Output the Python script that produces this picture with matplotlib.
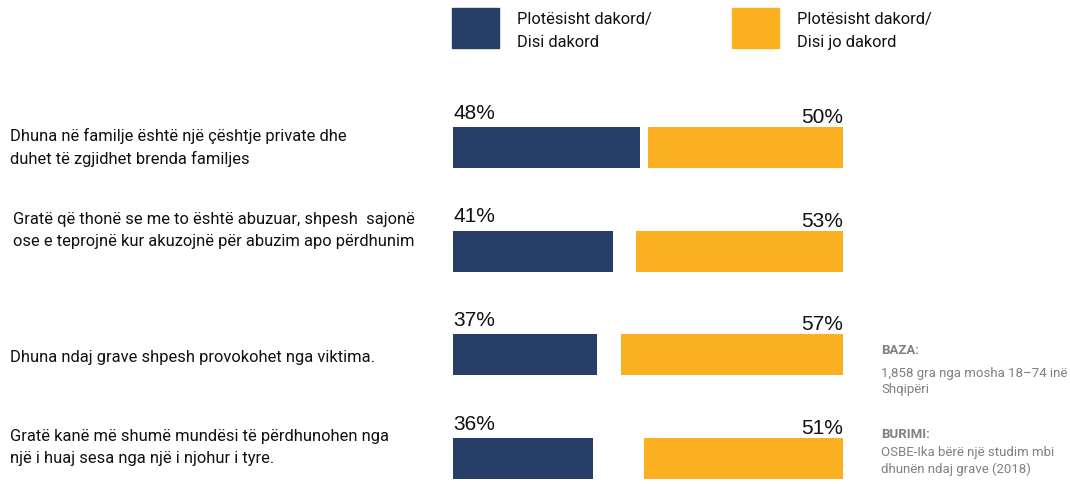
import numpy as np
import matplotlib
matplotlib.use("Agg")
from matplotlib import pyplot as plt
from matplotlib.patches import Rectangle
import matplotlib.transforms as mtransforms

# data
statements = [
    "Dhuna në familje është një çështje private dhe\nduhet të zgjidhet brenda familjes",
    "Gratë që thonë se me to është abuzuar, shpesh  sajonë\nose e teprojnë kur akuzojnë për abuzim apo përdhunim",
    "Dhuna ndaj grave shpesh provokohet nga viktima.",
    "Gratë kanë më shumë mundësi të përdhunohen nga\nnjë i huaj sesa nga një i njohur i tyre.",
]
agree = [48, 41, 37, 36]
disagree = [50, 53, 57, 51]
legend_labels = ["Plotësisht dakord/\nDisi dakord", "Plotësisht dakord/\nDisi jo dakord"]

navy = "#273f66"
orange = "#fbb022"
grey = "#808080"
narrow = ["Roboto", "DejaVu Sans"]
plain = ["Liberation Sans", "DejaVu Sans"]

W, H = 1070, 484
fig = plt.figure(figsize=(W / 100, H / 100), dpi=100)

# bar axes: x 453..843 px, y 100..484 px
ax = fig.add_axes([453 / W, 0, 390 / W, 384 / H])
row_px = 103.67
ax.set_xlim(0, 100)
ax.set_ylim((484 - 147.5) / row_px, (100 - 147.5) / row_px)
ax.axis("off")

y = np.arange(len(statements))
h = 0.395
ax.barh(y, agree, height=h, left=0, color=navy)
ax.barh(y, disagree, height=h, left=[100 - v for v in disagree], color=orange)

for i in range(len(y)):
    ax.annotate(f"{agree[i]}%", (0, y[i] - h / 2), xytext=(0, 6), textcoords="offset points",
                ha="left", va="baseline", fontsize=15, family=plain, color="#111111")
    ax.annotate(f"{disagree[i]}%", (100, y[i] - h / 2), xytext=(0, 3), textcoords="offset points",
                ha="right", va="baseline", fontsize=15, family=plain, color="#111111")

# statement labels, x in figure pixels, y in data rows
blend = mtransforms.blended_transform_factory(fig.transFigure, ax.transData)
nudge = [0, 15, -2, 8]
xpos = [10, 13, 10, 10]
for i, s in enumerate(statements):
    ax.annotate(s, (xpos[i] / W, y[i]), xycoords=blend, xytext=(0, nudge[i]), textcoords="offset points",
                ha="left", va="center", fontsize=11.9, family=narrow, color="#111111",
                linespacing=1.55, annotation_clip=False)

# legend
for k, (lab, col) in enumerate(zip(legend_labels, [navy, orange])):
    x0 = [452, 732][k]
    fig.patches.append(Rectangle((x0 / W, 1 - 48 / H), 47 / W, 40 / H,
                                 transform=fig.transFigure, color=col))
    fig.text((x0 + 65) / W, 1 - 31 / H, lab, ha="left", va="center", fontsize=11.8,
             family=narrow, color="#111111", linespacing=1.6)

# notes
fig.text(881 / W, 1 - 351 / H, "BAZA:", fontsize=9.5, family=narrow, weight="bold",
         color=grey, va="center")
fig.text(881 / W, 1 - 381 / H, "1,858 gra nga mosha 18–74 inë\nShqipëri", fontsize=9.5,
         family=narrow, color=grey, va="center", linespacing=1.3)
fig.text(881 / W, 1 - 434 / H, "BURIMI:", fontsize=9.5, family=narrow, weight="bold",
         color=grey, va="center")
fig.text(881 / W, 1 - 461 / H, "OSBE-Ika bërë një studim mbi\ndhunën ndaj grave (2018)",
         fontsize=9.5, family=narrow, color=grey, va="center", linespacing=1.3)

fig.savefig("out.png", dpi=100)
